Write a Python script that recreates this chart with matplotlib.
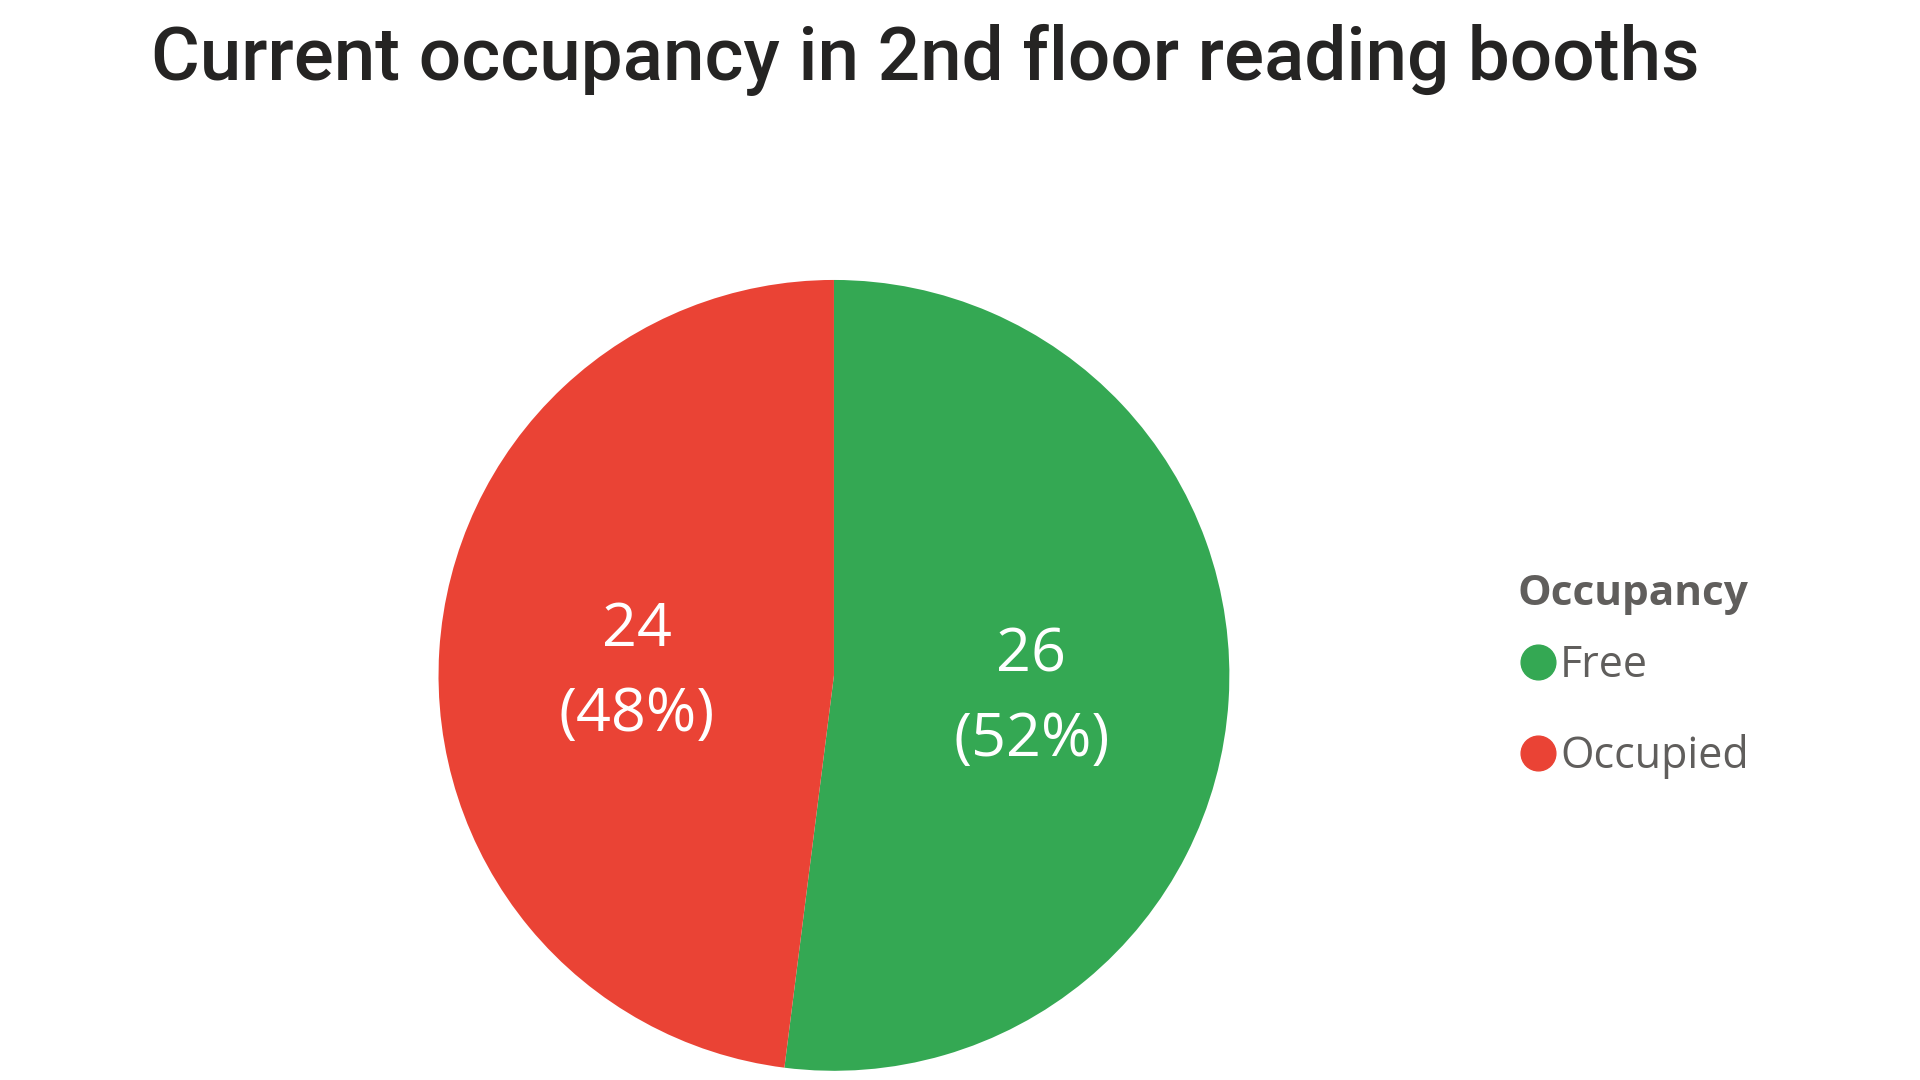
import matplotlib
matplotlib.use("Agg")
import matplotlib.pyplot as plt
from matplotlib.lines import Line2D

# Data
categories = ["Free", "Occupied"]
counts = [26, 24]
colors = ["#34A853", "#EA4335"]
title = "Current occupancy in 2nd floor reading booths"
legend_title = "Occupancy"

fig = plt.figure(figsize=(19.2, 10.8), dpi=100)
fig.patch.set_facecolor("white")

# Title
fig.text(0.0786, 0.926, title, fontsize=53.7, family="Roboto", fontweight="medium",
         color="#252423", ha="left", va="baseline")

# Pie
ax = fig.add_axes([0.2284, 0.0085, 0.4119, 0.7323])
total = sum(counts)

def fmt(pct):
    n = int(round(pct * total / 100.0))
    return "{}\n({:.0f}%)".format(n, pct)

wedges, texts, autotexts = ax.pie(
    counts, colors=colors, startangle=90, counterclock=False,
    autopct=fmt, pctdistance=0.5, radius=1,
    wedgeprops=dict(linewidth=0),
    textprops=dict(color="white", fontsize=44, family="Open Sans", linespacing=1.55),
)
# nudge labels a little lower, like the original
for t in autotexts:
    t.set_y(t.get_position()[1] - 0.025)
ax.set_xlim(-1, 1)
ax.set_ylim(-1, 1)
ax.set_aspect("equal")
ax.axis("off")

# Legend title
fig.text(0.7906, 0.4398, legend_title, fontsize=30.5, family="Open Sans",
         fontweight="bold", color="#605E5C", ha="left", va="baseline")

# Legend entries
handles = [Line2D([], [], linestyle="none", marker="o", markersize=25,
                  markerfacecolor=c, markeredgecolor=c) for c in colors]
leg = fig.legend(handles, categories, loc="center left",
                 bbox_to_anchor=(0.7721, 0.3414), frameon=False,
                 prop=dict(family="Open Sans", size=31), handlelength=0.8,
                 handletextpad=0.1, labelspacing=1.05)
for t in leg.get_texts():
    t.set_color("#605E5C")

fig.savefig("out.png", dpi=100)
